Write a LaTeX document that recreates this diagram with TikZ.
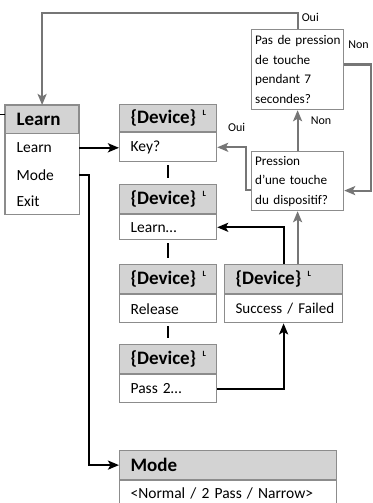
\documentclass[tikz,border=0pt]{standalone}
\usepackage{fontspec}
\setmainfont{Carlito}
\usepackage{tikz}
\usetikzlibrary{arrows.meta,positioning}

\definecolor{boxgray}{HTML}{8C8C8C}
\definecolor{hdrgray}{HTML}{D3D3D3}
\definecolor{arrgray}{HTML}{767676}

\newcommand{\devhdr}{\mbox{\{Device\}~\raisebox{0.42em}{\fontsize{8}{8}\selectfont L}}}

\begin{document}
\begin{tikzpicture}[x=1pt,y=-1pt,
  hdr/.style={fill=hdrgray,draw=boxgray,line width=1.2pt,anchor=north west,
    inner xsep=11pt,inner ysep=0pt,minimum height=29pt,align=left,
    font=\bfseries\fontsize{19}{21}\selectfont},
  row/.style={draw=boxgray,line width=1.2pt,anchor=north west,
    inner xsep=11pt,inner ysep=0pt,align=left,font=\fontsize{15.5}{18}\selectfont},
  item/.style={row,draw=none},
  quest/.style={draw=boxgray,line width=1.2pt,anchor=north west,inner xsep=3.5pt,
    inner ysep=0pt,align=left,font=\fontsize{13.2}{19.5}\selectfont},
  lbl/.style={font=\fontsize{12}{13}\selectfont,inner sep=0pt,anchor=west},
  garrow/.style={draw=arrgray,line width=2.2pt,-{Stealth[length=11pt,width=9pt,inset=2.5pt]}},
  barrow/.style={draw=black,line width=2.2pt,-{Stealth[length=11pt,width=9pt,inset=2.5pt]}},
  blink/.style={draw=black,line width=2.2pt}
]
\useasboundingbox (0,0) rectangle (372,503);

% Learn menu
\node[hdr,text width=51pt,minimum height=28pt] (learnH) at (5,105) {Learn};
\node[item,text width=51pt,minimum height=26pt] (mLearn) at (learnH.south west) {Learn};
\node[item,text width=51pt,minimum height=26pt] (mMode) at (mLearn.south west) {Mode};
\node[item,text width=51pt,minimum height=25pt] (mExit) at (mMode.south west) {Exit};
\draw[draw=boxgray,line width=1.2pt] (learnH.north west) rectangle (mExit.south east);
\coordinate (stub) at (0,114);
\draw[line width=1pt] (stub) -- (stub -| learnH.west);

% Device screens
\node[hdr,text width=75pt,minimum height=27pt] (keyH) at (119,104) {\devhdr};
\node[row,text width=75pt,minimum height=29pt] (keyrow) at (keyH.south west) {Key?};

\node[hdr,text width=75pt] (learnD) at (119,184) {\devhdr};
\node[row,text width=75pt,minimum height=25pt] (learnrow) at (learnD.south west) {Learn\ldots};

\node[hdr,text width=75pt] (relH) at (119,264) {\devhdr};
\node[row,text width=75pt,minimum height=28pt] (relrow) at (relH.south west) {Release};

\node[hdr,text width=75pt] (passH) at (119,344) {\devhdr};
\node[row,text width=75pt,minimum height=28pt] (passrow) at (passH.south west) {Pass 2\ldots};

\node[hdr,text width=96pt] (succH) at (224,264) {\devhdr};
\node[row,text width=96pt,minimum height=28pt] (succrow) at (succH.south west)
  {\mbox{\fontsize{15}{18}\selectfont Success / Failed}};

\node[hdr,text width=195pt] (modeH) at (119,450) {Mode};
\node[row,text width=195pt,minimum height=25pt] (moderow) at (modeH.south west)
  {\mbox{<Normal / 2 Pass / Narrow>}};

% Questions
\node[quest,text width=85pt,minimum height=80pt] (quest1) at (251,29)
  {\mbox{Pas de pression}\\de touche\\pendant 7\\secondes?};
\node[quest,text width=85pt,minimum height=59pt] (quest2) at (251,151)
  {Pression\\\mbox{d'une touche}\\\mbox{du dispositif?}};

% Gray loop
\draw[garrow] (quest1.north) -- (quest1.north |- 0,13) -| (learnH.north);
\node[lbl] (oui1) at ([xshift=4pt,yshift=12pt]quest1.north) {Oui};
\draw[garrow] ([yshift=5pt]quest1.east) -- ++(27,0) |- ([yshift=-9.5pt]quest2.east);
\node[lbl] (non1) at ([xshift=4pt,yshift=-16pt]quest1.north east) {Non};
\draw[garrow] (quest2.north) -- (quest2.north |- quest1.south);
\node[lbl] (non2) at ([xshift=13pt,yshift=30pt]quest2.north) {Non};
\draw[garrow] ([yshift=-8.5pt]quest2.west) -- ++(-5,0) |- (keyrow.east);
\node[lbl] (oui2) at ([xshift=-23pt,yshift=24pt]quest2.north west) {Oui};
\draw[garrow] (quest2.south |- succH.north) -- (quest2.south);

% Black flow
\draw[barrow] (mLearn.east) -- (mLearn.east -| keyrow.west);
\draw[barrow] (mMode.east) -- ++(10,0) |- (modeH.west);
\draw[barrow] (succH.north) |- (learnrow.east);
\draw[barrow] (passrow.east) -| (succrow.south);
\draw[blink,shorten <=3pt,shorten >=6pt] (keyrow.south) -- (learnD.north);
\draw[blink,shorten <=3pt,shorten >=6pt] (learnrow.south) -- (relH.north);
\draw[blink,shorten <=3pt,shorten >=6pt] (relrow.south) -- (passH.north);
\end{tikzpicture}
\end{document}
